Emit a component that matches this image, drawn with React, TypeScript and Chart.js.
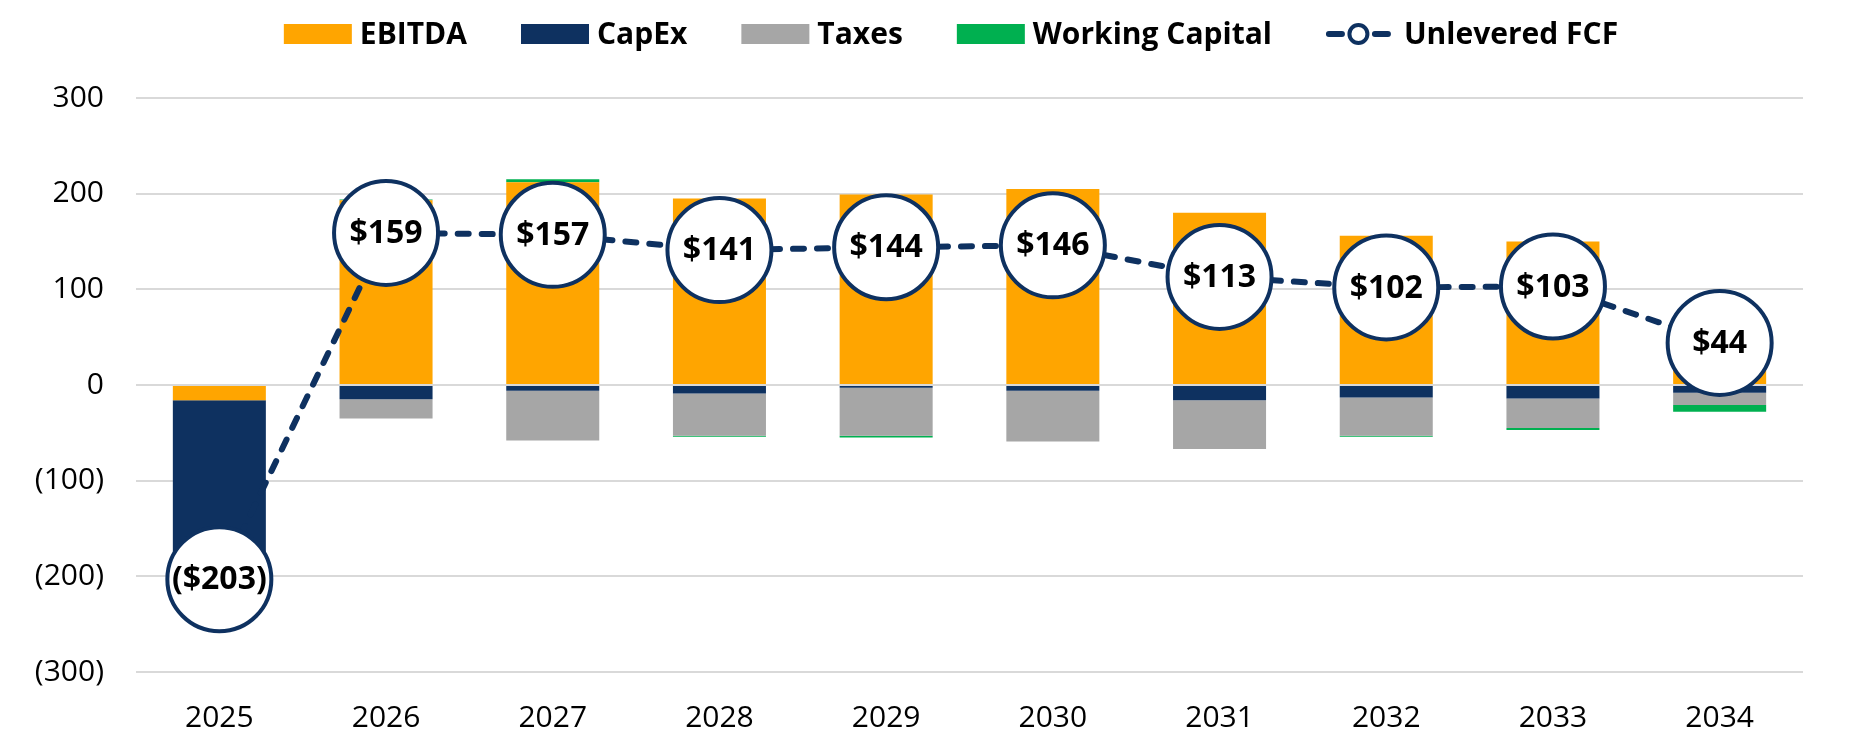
import React, { useEffect, useRef } from "react";
import { Chart, registerables } from "chart.js";

Chart.register(...registerables);

// ---- Data ----
const years = ["2025", "2026", "2027", "2028", "2029", "2030", "2031", "2032", "2033", "2034"];
const ebitda = [-16, 193, 212, 195, 199, 205, 180, 156, 150, 72];
const capex = [-187, -15, -6, -9, -3, -6, -16, -13, -14, -8];
const taxes = [0, -20, -52, -44, -50, -53, -51, -40, -31, -13];
const workingCapital = [0, 1, 3, -1, -2, 0, 0, -1, -2, -7];
const unleveredFcf = [-203, 159, 157, 141, 144, 146, 113, 102, 103, 44];
const yMin = -300;
const yMax = 300;
const yStep = 100;

const FONT = '"Open Sans", "Noto Sans", sans-serif';
const NAVY = "#0e3160";
const ORANGE = "#ffa500";
const GRAY = "#a6a6a6";
const GREEN = "#00b050";
const GRID = "#d9d9d9";

const fmtMoney = (v: number) => (v < 0 ? `($${Math.abs(v)})` : `$${v}`);
const fmtTick = (v: number) => (v < 0 ? `(${Math.abs(v)})` : `${v}`);

const zeroLinePlugin = {
  id: "zeroLine",
  afterDatasetDraw(chart: any, args: any) {
    if (args.index !== 0) return;
    const { ctx, chartArea, scales } = chart;
    const y = scales.y.getPixelForValue(0);
    ctx.save();
    ctx.strokeStyle = GRID;
    ctx.lineWidth = 2;
    ctx.beginPath();
    ctx.moveTo(chartArea.left, y);
    ctx.lineTo(chartArea.right, y);
    ctx.stroke();
    ctx.restore();
  },
};

const pointLabelPlugin = {
  id: "pointLabels",
  afterDatasetsDraw(chart: any) {
    const { ctx } = chart;
    chart.data.datasets.forEach((ds: any, i: number) => {
      if (ds.type !== "line") return;
      const meta = chart.getDatasetMeta(i);
      ctx.save();
      ctx.font = `bold 32px ${FONT}`;
      ctx.fillStyle = "#000000";
      ctx.textAlign = "center";
      ctx.textBaseline = "middle";
      meta.data.forEach((el: any, j: number) => {
        ctx.fillText(fmtMoney(ds.data[j]), el.x, el.y + 1);
      });
      ctx.restore();
    });
  },
};

const legendPlugin = {
  id: "customLegend",
  afterDraw(chart: any) {
    const { ctx } = chart;
    ctx.save();
    ctx.font = `bold 30px ${FONT}`;
    ctx.textBaseline = "middle";
    ctx.textAlign = "left";
    const boxW = 68;
    const boxH = 20;
    const lineW = 65;
    const gapText = 8;
    const gapItem = 54;
    const items = chart.data.datasets.map((ds: any) => {
      const isLine = ds.type === "line";
      const tw = ctx.measureText(ds.label).width;
      const markW = isLine ? lineW : boxW;
      const gt = isLine ? 13 : gapText;
      return { ds, isLine, tw, markW, gt, w: markW + gt + tw };
    });
    const total = items.reduce((s: number, it: any) => s + it.w, 0) + gapItem * (items.length - 1);
    let x = 951 - total / 2;
    const cy = 34;
    items.forEach((it: any) => {
      if (it.isLine) {
        ctx.strokeStyle = it.ds.borderColor;
        ctx.lineWidth = 6;
        ctx.lineCap = "round";
        ctx.beginPath();
        ctx.moveTo(x + 3, cy);
        ctx.lineTo(x + 16, cy);
        ctx.moveTo(x + lineW - 16, cy);
        ctx.lineTo(x + lineW - 3, cy);
        ctx.stroke();
        ctx.beginPath();
        ctx.arc(x + lineW / 2, cy, 9, 0, Math.PI * 2);
        ctx.fillStyle = "#ffffff";
        ctx.fill();
        ctx.lineWidth = 4;
        ctx.stroke();
      } else {
        ctx.fillStyle = it.ds.backgroundColor;
        ctx.fillRect(x, cy - boxH / 2, boxW, boxH);
      }
      ctx.fillStyle = "#000000";
      ctx.fillText(it.ds.label, x + it.markW + it.gt, cy + 1);
      x += it.w + gapItem;
    });
    ctx.restore();
  },
};

export default function App() {
  const canvasRef = useRef<HTMLCanvasElement | null>(null);

  useEffect(() => {
    if (!canvasRef.current) return;
    const barCommon = {
      type: "bar" as const,
      stack: "bars",
      order: 1,
      barPercentage: 0.558,
      categoryPercentage: 1,
      borderWidth: 0,
    };
    const chart = new Chart(canvasRef.current, {
      type: "bar",
      data: {
        labels: years,
        datasets: [
          { ...barCommon, label: "EBITDA", data: ebitda, backgroundColor: ORANGE },
          { ...barCommon, label: "CapEx", data: capex, backgroundColor: NAVY },
          { ...barCommon, label: "Taxes", data: taxes, backgroundColor: GRAY },
          { ...barCommon, label: "Working Capital", data: workingCapital, backgroundColor: GREEN },
          {
            type: "line" as const,
            label: "Unlevered FCF",
            data: unleveredFcf,
            stack: "fcf",
            order: 0,
            borderColor: NAVY,
            borderWidth: 6,
            borderDash: [11, 13],
            borderCapStyle: "round",
            pointRadius: 52,
            pointHoverRadius: 52,
            pointBorderWidth: 4,
            pointBackgroundColor: "#ffffff",
            pointBorderColor: NAVY,
            tension: 0,
            clip: false as any,
          } as any,
        ],
      },
      options: {
        responsive: false,
        animation: false,
        devicePixelRatio: 1,
        layout: { padding: { top: 98, right: 12, left: 0, bottom: 0 } },
        plugins: {
          legend: { display: false },
          tooltip: { enabled: false },
          title: { display: false },
        },
        scales: {
          x: {
            stacked: true,
            grid: { display: false },
            border: { display: false },
            ticks: {
              color: "#000000",
              font: { family: FONT, size: 30 },
              padding: 20,
              maxRotation: 0,
            },
            afterFit: (axis: any) => {
              axis.height = 60;
            },
          },
          y: {
            stacked: true,
            min: yMin,
            max: yMax,
            grid: { color: GRID, lineWidth: 2, drawTicks: false },
            border: { display: false },
            ticks: {
              stepSize: yStep,
              color: "#000000",
              font: { family: FONT, size: 30 },
              padding: 32,
              callback: (v: any) => fmtTick(Number(v)),
            },
            afterFit: (axis: any) => {
              axis.width = 136;
            },
          },
        },
      },
      plugins: [zeroLinePlugin, pointLabelPlugin, legendPlugin],
    });
    return () => chart.destroy();
  }, []);

  return (
    <div style={{ position: "fixed", left: 0, top: 0, width: 1859, height: 732, background: "#ffffff" }}>
      <canvas ref={canvasRef} width={1859} height={732} style={{ display: "block" }} />
    </div>
  );
}
